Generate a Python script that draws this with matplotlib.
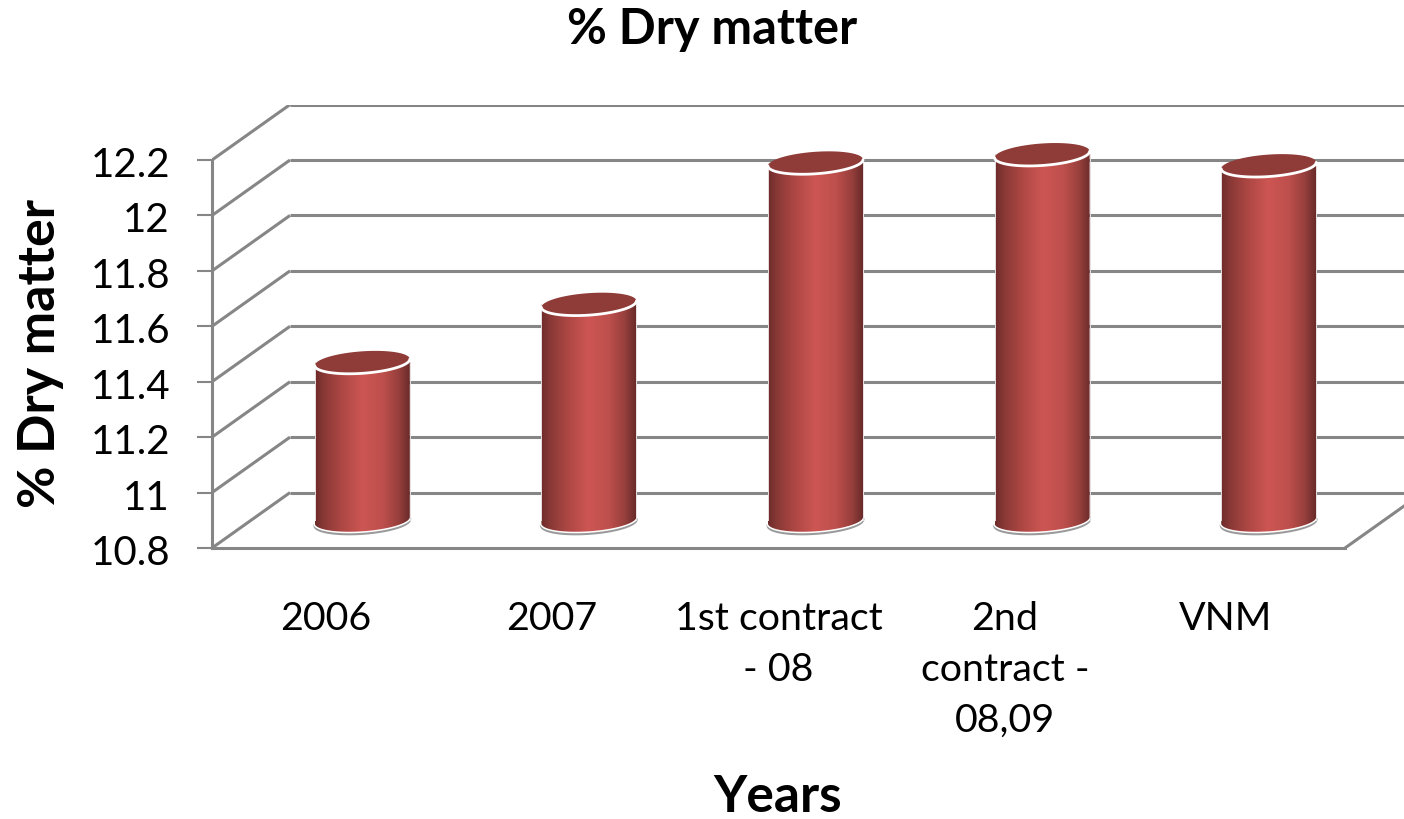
import numpy as np
import matplotlib
matplotlib.use("Agg")
import matplotlib.pyplot as plt
from matplotlib.colors import LinearSegmentedColormap
from matplotlib.patches import Polygon
from matplotlib.transforms import ScaledTranslation

plt.rcParams['font.family'] = ['Lato', 'DejaVu Sans']

categories = ["2006", "2007", "1st contract\n- 08", "2nd\ncontract -\n08,09", "VNM"]
values = [11.37, 11.58, 12.09, 12.12, 12.08]
y_ticks = [10.8, 11.0, 11.2, 11.4, 11.6, 11.8, 12.0, 12.2]
y_labels = ["10.8", "11", "11.2", "11.4", "11.6", "11.8", "12", "12.2"]
title = "% Dry matter"
x_title = "Years"
y_title = "% Dry matter"

W, H = 1404, 819
LEFT, RIGHT, TOP, BOTTOM = 212, 1404, 104.6, 548
PX_X = 1 / 226.6                # category units per pixel
PX_Y = 0.2 / 55.43              # value units per pixel
DEPTH_X = 78 * PX_X
DEPTH_Y = 0.2
GRID = "#868686"
LW = 2.2

fig = plt.figure(figsize=(W / 100, H / 100), dpi=100, facecolor="white")
ax = fig.add_axes([LEFT / W, 1 - BOTTOM / H, (RIGHT - LEFT) / W, (BOTTOM - TOP) / H])
ax.set_facecolor("none")
xmin, xmax = -0.5, -0.5 + (RIGHT - LEFT) * PX_X
ymin, ymax = 10.8, 12.4

# walls and floor
for v in y_ticks:
    ax.plot([-0.5, -0.5 + DEPTH_X], [v, v + DEPTH_Y], color=GRID, lw=LW, zorder=1,
            solid_capstyle="butt")
    ax.plot([-0.5 + DEPTH_X, xmax], [v + DEPTH_Y, v + DEPTH_Y], color=GRID, lw=LW, zorder=1,
            solid_capstyle="butt")
ax.plot([4.5, 4.5 + DEPTH_X], [10.8, 10.8 + DEPTH_Y], color=GRID, lw=LW, zorder=1)

# cylinders
cmap = LinearSegmentedColormap.from_list("cyl", [
    (0.00, "#6d2c2b"), (0.10, "#8a3936"), (0.28, "#ad4744"), (0.50, "#cd5653"),
    (0.72, "#bd4f4c"), (0.88, "#98403d"), (1.00, "#692b2a")])
grad = np.linspace(0, 1, 256).reshape(1, -1)
R = 47.5 * PX_X
B = 11 * PX_Y
K = 3.2 * PX_Y
CAP = "#8f3b38"
BAR_SHIFT = -2 * PX_X


def rim(cx, cy, t):
    return np.column_stack([cx + R * np.cos(t), cy + B * np.sin(t) + K * np.cos(t)])


for i, v in enumerate(values):
    cx = i + DEPTH_X / 2 + BAR_SHIFT
    base = 10.8 + DEPTH_Y / 2
    top = v + DEPTH_Y / 2
    low = np.linspace(np.pi, 2 * np.pi, 60)
    full = np.linspace(0, 2 * np.pi, 120)
    bottom_arc = rim(cx, base, low)
    # shadow and white rim below the base
    shadow = bottom_arc - [0, 2.2 * PX_Y]
    ax.plot(shadow[:, 0], shadow[:, 1], color="#9a9a9a", lw=2.0, zorder=2)
    ax.plot(bottom_arc[:, 0], bottom_arc[:, 1], color="white", lw=2.2, zorder=2.5)
    # shaded body clipped to the cylinder outline
    outline = np.vstack([rim(cx, top, np.array([np.pi, 0.0])), bottom_arc[::-1]])
    body = Polygon(outline, closed=True, facecolor="none", edgecolor="none", zorder=3)
    ax.add_patch(body)
    im = ax.imshow(grad, extent=[cx - R, cx + R, base - 2 * B, top + 2 * B], aspect="auto",
                   cmap=cmap, vmin=0, vmax=1, zorder=3, interpolation="bilinear")
    im.set_clip_path(body)
    for s in (-1, 1):
        ax.plot([cx + s * R, cx + s * R], [base, top], color="#e8dede", lw=0.7, zorder=3.2)
    # top cap
    ax.add_patch(Polygon(rim(cx, top, full), closed=True, facecolor=CAP, edgecolor="none", zorder=4))
    front = rim(cx, top, np.linspace(np.pi * 1.0, np.pi * 2.0, 60))
    ax.plot(front[:, 0], front[:, 1], color="white", lw=2.0, zorder=5, solid_capstyle="round")

ax.set_xlim(xmin, xmax)
ax.set_ylim(ymin, ymax)

for side in ("top", "right"):
    ax.spines[side].set_visible(False)
ax.spines["left"].set_bounds(10.8, 12.2)
ax.spines["bottom"].set_bounds(-0.5, 4.5)
for side in ("left", "bottom"):
    ax.spines[side].set_color(GRID)
    ax.spines[side].set_linewidth(LW)

ax.set_yticks(y_ticks)
ax.set_yticklabels(y_labels)
ax.tick_params(axis="y", labelsize=29, length=10.8, width=1.5, color=GRID, pad=19.5)
ax.set_xticks(range(len(categories)))
ax.set_xticklabels(categories, linespacing=1.52)
ax.tick_params(axis="x", labelsize=28.4, length=0, pad=38)

down = ScaledTranslation(0, -2 / 100, fig.dpi_scale_trans)
for lab in ax.get_yticklabels():
    lab.set_transform(lab.get_transform() + down)
vnm = ax.get_xticklabels()[-1]
vnm.set_transform(vnm.get_transform() + ScaledTranslation(-6 / 100, 0, fig.dpi_scale_trans))

fig.text(712 / W, 1 - 29 / H, title, fontsize=35, fontweight="bold", ha="center", va="center")
ax.set_xlabel(x_title, fontsize=37, fontweight="bold", va="center")
ax.xaxis.set_label_coords(778 / W, 1 - 797 / H, transform=fig.transFigure)
ax.set_ylabel(y_title, fontsize=37.4, fontweight="bold", va="center")
ax.yaxis.set_label_coords(41 / W, 1 - 354 / H, transform=fig.transFigure)

fig.savefig("out.png", dpi=100, facecolor="white")
